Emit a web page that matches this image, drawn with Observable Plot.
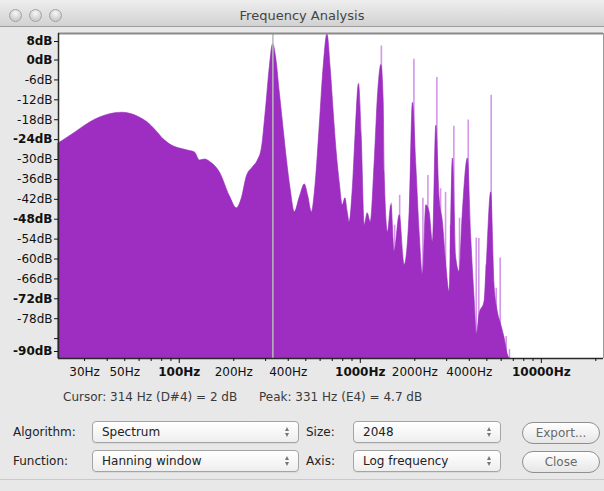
<!DOCTYPE html>
<html>
<head>
<meta charset="utf-8">
<script src="https://cdn.jsdelivr.net/npm/d3@7"></script>
<script src="https://cdn.jsdelivr.net/npm/@observablehq/plot@0.6"></script>
<style>
  html, body { margin: 0; padding: 0; }
  body { width: 604px; height: 491px; overflow: hidden; background: #e8e8e8; font-family: "DejaVu Sans", sans-serif; }
  #win { position: relative; width: 604px; height: 491px; background: #e8e8e8; }
  #titlebar { position: absolute; left: 0; top: 0; width: 604px; height: 26px; background: linear-gradient(#eeeeee, #d2d2d2); border-bottom: 1px solid #9c9c9c; }
  .light { position: absolute; top: 9px; border-radius: 50%; background: radial-gradient(circle at 50% 30%, #f7f7f7, #cdcdcd 70%); border: 1px solid #a2a2a2; box-sizing: border-box; width: 13px; height: 13px; }
  #title { position: absolute; left: 0; width: 604px; top: 8px; text-align: center; font-size: 13px; line-height: 16px; color: #444; }
  #chart { position: absolute; left: 0; top: 27px; }
  .status { position: absolute; top: 389px; font-size: 12px; line-height: 16px; color: #3a3a3a; white-space: pre; }
  .lbl { position: absolute; font-size: 12px; line-height: 16px; color: #222; }
  .popup { position: absolute; height: 22px; box-sizing: border-box; border: 1px solid #a4a4a4; border-radius: 4px; background: linear-gradient(#ffffff, #eeeeee); font-size: 12px; line-height: 20px; padding-left: 9px; color: #222; box-shadow: 0 1px 0 rgba(0,0,0,0.06); }
  .arrows { position: absolute; right: 7px; top: 5px; width: 7px; height: 11px; }
  .arrows .up { position: absolute; left: 1px; top: 0; width: 0; height: 0; border-left: 2.5px solid transparent; border-right: 2.5px solid transparent; border-bottom: 4px solid #777; }
  .arrows .dn { position: absolute; left: 1px; top: 6px; width: 0; height: 0; border-left: 2.5px solid transparent; border-right: 2.5px solid transparent; border-top: 4px solid #777; }
  .btn { position: absolute; height: 22px; box-sizing: border-box; border: 1px solid #8f8f8f; border-radius: 11px; background: linear-gradient(#ffffff, #e6e6e6); font-size: 12px; line-height: 20px; text-align: center; color: #6a6a6a; }
  #sep { position: absolute; left: 0; top: 479px; width: 604px; height: 1px; background: #c9c9c9; }
</style>
</head>
<body>
<div id="win">
  <div id="titlebar">
    <div class="light" style="left:9px"></div>
    <div class="light" style="left:29px"></div>
    <div class="light" style="left:49px"></div>
    <div id="title">Frequency Analysis</div>
  </div>
  <div id="chart"></div>
  <div class="status" style="left:63px">Cursor: 314 Hz (D#4) = 2 dB</div>
  <div class="status" style="left:259px">Peak: 331 Hz (E4) = 4.7 dB</div>

  <div class="lbl" style="left:13px; top:424px">Algorithm:</div>
  <div class="popup" style="left:92px; top:421px; width:207px">Spectrum<span class="arrows"><span class="up"></span><span class="dn"></span></span></div>
  <div class="lbl" style="left:306px; top:424px">Size:</div>
  <div class="popup" style="left:353px; top:421px; width:148px">2048<span class="arrows"><span class="up"></span><span class="dn"></span></span></div>
  <div class="btn" style="left:522px; top:422px; width:78px">Export...</div>

  <div class="lbl" style="left:13px; top:453px">Function:</div>
  <div class="popup" style="left:92px; top:450px; width:207px">Hanning window<span class="arrows"><span class="up"></span><span class="dn"></span></span></div>
  <div class="lbl" style="left:306px; top:453px">Axis:</div>
  <div class="popup" style="left:353px; top:450px; width:148px">Log frequency<span class="arrows"><span class="up"></span><span class="dn"></span></span></div>
  <div class="btn" style="left:522px; top:451px; width:78px">Close</div>
  <div id="sep"></div>
</div>
<script>
// ---- data ----
const spectrumHz = [21.5, 23.7, 26.6, 30.2, 34.3, 38.9, 44.2, 48.9, 54.8, 60.7, 67.2, 74.4, 82.3, 91.1, 100.9, 111.7, 122.1, 130.1, 138.6, 149.6, 167.7, 190.4, 208.1, 221.7, 236.3, 255.0, 271.8, 285.9, 300.8, 316.5, 330.0, 343.7, 359.3, 378.0, 392.6, 413.1, 434.6, 463.2, 493.6, 516.0, 539.5, 567.5, 597.1, 628.1, 658.4, 686.6, 713.3, 740.9, 769.7, 799.6, 827.5, 852.0, 873.9, 908.0, 943.3, 983.6, 1017.9, 1057.5, 1098.4, 1141.1, 1200.4, 1255.0, 1307.6, 1346.4, 1363.1, 1421.7, 1484.3, 1547.8, 1650.0, 1757.7, 1873.0, 1953.1, 2039.1, 2126.4, 2217.4, 2315.4, 2414.5, 2517.8, 2628.9, 2741.6, 2858.6, 2984.5, 3112.3, 3245.5, 3388.4, 3533.5, 3685.0, 3926.6, 4100.5, 4276.0, 4403.1, 4556.7, 4856.4, 4961.6, 5285.2, 5511.6, 5747.5, 6001.6, 6258.7, 6526.0, 6668.6];
const spectrumDb = [-25.2, -23.7, -21.9, -19.8, -18.0, -16.8, -16.05, -15.9, -16.35, -17.4, -18.9, -21.3, -24.0, -25.8, -26.7, -27.3, -27.9, -30.3, -30.0, -30.9, -33.9, -41.1, -44.7, -41.7, -35.1, -32.4, -30.3, -26.7, -15.3, -2.1, 4.8, 0.3, -9.9, -21.3, -29.7, -39.3, -45.9, -41.4, -37.5, -41.1, -45.9, -36.9, -19.8, -1.8, 7.8, -2.7, -15.9, -27.9, -36.9, -43.8, -41.7, -45.9, -48.9, -39.3, -21.9, -7.2, -22.8, -49.8, -46.2, -48.9, -30.9, -9.9, -1.5, -12.3, -33.9, -51.9, -43.8, -57.9, -46.8, -61.8, -45.9, -12.9, -31.8, -51.9, -64.8, -43.8, -45.9, -54.9, -19.8, -41.7, -48.9, -61.8, -69.9, -29.7, -59.7, -63.9, -45.9, -29.7, -53.7, -71.7, -82.8, -76.8, -72.9, -64.8, -39.9, -67.8, -75.9, -79.8, -83.7, -88.8, -90];

// thin (lighter) spectral lines poking above the filled area
const spikeHz = [1307.6, 1484.3, 1547.8, 1650.0, 1978, 2217.4, 2362.6, 2649, 2776.6, 2958, 3152, 3287, 3533.5, 3946.5, 4369.7, 4515.6, 4961.6, 5285.2, 5632, 5926, 6395, 6668.6];
const spikeDb = [4.2, -43.2, -49.8, -40.8, 0.2, -41.7, -34.8, -5.3, -38.8, -39.9, -49.8, -20.0, -47.7, -18.1, -53.7, -53.8, -61.8, -10.6, -68.8, -59.7, -83.4, -87.3];

const cursorHz = 329;

const xDomain = [21.53, 22050];
const yDomain = [-90, 8];

const yTicksNormal = [-6, -12, -18, -30, -36, -42, -54, -60, -66, -78];
const yTicksBold = [0, -24, -48, -72];
const yTicksBlank = [-84];
const yTopLabel = [8];
const yBottomLabel = [-90];

const xLabelsNormal = [30, 50, 200, 400, 2000, 4000];
const xLabelsBold = [100, 1000, 10000];
const xTicksMinor = [30, 40, 50, 60, 70, 80, 90, 200, 300, 400, 500, 600, 700, 800, 900, 2000, 3000, 4000, 5000, 6000, 7000, 8000, 9000, 20000];

// ---- build ----
const spectrum = spectrumHz.map((hz, i) => ({hz, db: spectrumDb[i]}));
const spikes = spikeHz.map((hz, i) => ({hz, db: spikeDb[i]}));
const yMin = yDomain[0], yMax = yDomain[1];
const dbFmt = d => `${d}dB`;
const hzFmt = d => `${d}Hz`;

const chart = Plot.plot({
  width: 604,
  height: 355,
  marginTop: 6,
  marginBottom: 24,
  marginLeft: 58,
  marginRight: 1,
  x: {type: "log", domain: xDomain},
  y: {domain: yDomain},
  style: {background: "transparent", fontFamily: "DejaVu Sans, sans-serif", fontSize: "12px", color: "#111", overflow: "visible"},
  marks: [
    Plot.frame({fill: "white", stroke: null}),
    Plot.ruleX(spikes, {x: "hz", y1: () => yMin, y2: "db", stroke: "#d497ea", strokeWidth: 1.6}),
    Plot.areaY(spectrum, {x: "hz", y1: () => yMin, y2: "db", fill: "#9e2ec1", stroke: "#9428ba", strokeWidth: 0.6, curve: "monotone-x"}),
    Plot.ruleX([cursorHz], {stroke: "#b9b9b9", strokeWidth: 1.5}),
    Plot.ruleY([yMax], {stroke: "#8a8a8a", strokeWidth: 2}),
    Plot.ruleX([xDomain[1]], {stroke: "#9a9a9a", strokeWidth: 1}),
    Plot.ruleX([xDomain[0]], {stroke: "#2a2a2a", strokeWidth: 1.5}),
    Plot.ruleY([yMin], {stroke: "#2a2a2a", strokeWidth: 1.5}),
    Plot.axisY({ticks: yTicksNormal, tickSize: 4, tickPadding: 2, tickFormat: dbFmt, label: null}),
    Plot.axisY({ticks: yTicksBold, tickSize: 4, tickPadding: 2, tickFormat: dbFmt, fontWeight: "bold", label: null}),
    Plot.axisY({ticks: yTicksBlank, tickSize: 4, tickFormat: () => "", label: null}),
    Plot.axisY({ticks: yTopLabel, tickSize: 4, tickPadding: 2, tickFormat: dbFmt, fontWeight: "bold", dy: 8, label: null}),
    Plot.axisY({ticks: yBottomLabel, tickSize: 4, tickPadding: 2, tickFormat: dbFmt, fontWeight: "bold", dy: -7, label: null}),
    Plot.axisX({ticks: xTicksMinor, tickSize: 3, tickFormat: () => "", label: null}),
    Plot.axisX({ticks: xLabelsBold, tickSize: 5, tickFormat: () => "", label: null}),
    Plot.text(xLabelsNormal, {x: d => d, text: hzFmt, frameAnchor: "bottom", dy: 14, lineAnchor: "middle", fill: "#111"}),
    Plot.text(xLabelsBold, {x: d => d, text: hzFmt, frameAnchor: "bottom", dy: 14, lineAnchor: "middle", fontWeight: "bold", fill: "#111"})
  ]
});
document.getElementById("chart").appendChild(chart);
</script>
</body>
</html>
